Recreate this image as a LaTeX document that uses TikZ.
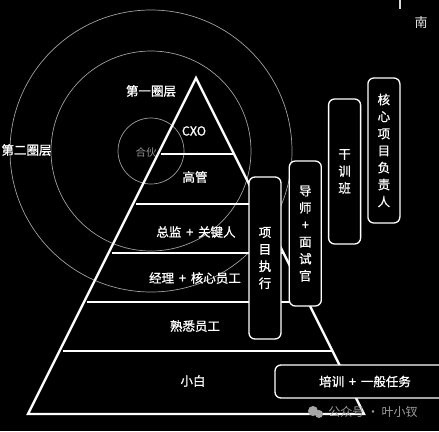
\documentclass[tikz,border=0pt]{standalone}
\usepackage{fontspec}
\setmainfont{Noto Sans CJK SC}
\newfontfamily\heavycjk[FakeBold=0.9]{Noto Sans CJK SC}
\usetikzlibrary{positioning}

\begin{document}
\begin{tikzpicture}[
			x=1pt, y=-1pt,
			tri/.style={draw=white, line width=2.4pt, line join=miter},
			layer/.style={draw=white, line width=2.4pt},
			ring/.style={draw=gray!75, line width=0.7pt},
			lbl/.style={text=white, font=\heavycjk\fontsize{12.5}{14}\selectfont, inner sep=1pt},
			vbox/.style={rectangle, rounded corners=6pt, draw=white, fill=black, line width=1.3pt, minimum width=32pt, text=white, align=center, font=\heavycjk\fontsize{12.5}{17}\selectfont, inner sep=0pt},
			hbox/.style={rectangle, rounded corners=6pt, draw=white, fill=black, line width=1.3pt, minimum width=180pt, minimum height=33pt, text=white, font=\heavycjk\fontsize{12.5}{14}\selectfont}
			]
			\fill[black] (0,0) rectangle (439,431);
			\useasboundingbox (0,0) rectangle (439,431);
			% rings
			\coordinate (ctr) at (151,151);
			\draw[ring] (ctr) circle (33);
			\draw[ring] (ctr) circle (100);
			\draw[ring] (ctr) circle (141);
			\node[lbl] (ring1) at (151,91) {第一圈层};
			\node[lbl] (ring2) at (26.5,150) {第二圈层};
			\node[lbl, text=gray!85, font=\fontsize{10.5}{12}\selectfont] (partner) at (146,152) {合伙};
			% pyramid
			\coordinate (apex) at (196,78);
			\coordinate (bl) at (28,414);
			\coordinate (br) at (364,414);
			\draw[tri] (bl) -- (apex) -- (br) -- cycle;
			\foreach \ly in {154,204,253,302,351}{
				\pgfmathsetmacro\lx{196-0.5*(\ly-78)+3}
				\pgfmathsetmacro\rx{196+0.5*(\ly-78)}
				\draw[layer] (\lx,\ly) -- (\rx,\ly);
			}
			\node[lbl] (cxo) at (194,131) {CXO};
			\node[lbl] (senior) at (195,177) {高管};
			\node[lbl] (director) at (196,232) {总监\ \,+\ \,关键人};
			\node[lbl] (manager) at (195,278) {经理\ \,+\ \,核心员工};
			\node[lbl] (familiar) at (195,326) {熟悉员工};
			\node[lbl] (novice) at (193,381) {小白};
			% training boxes
			\node[vbox, minimum height=162pt] (exec) at (265,258) {项\\目\\执\\行};
			\node[vbox, minimum height=145pt, above right=33pt and 7pt of exec.south east] (mentor) {导\\师\\+\\面\\试\\官};
			\node[vbox, minimum height=145pt, above right=62pt and 6pt of mentor.south east] (camp) {干\\训\\班};
			\node[vbox, minimum height=145pt, above right=21pt and 6pt of camp.south east] (lead) {核\\心\\项\\目\\负\\责\\人};
			\node[hbox] (basic) at (365,381.5) {培训\ \,+\ \,一般任务};
			% top right mark
			\coordinate (tick) at (400,0);
			\draw[white!85!black, line width=1.5pt] (tick) -- ++(0,9);
			\node[lbl, text=white!90!black, font=\fontsize{13}{14}\selectfont] (south) at (421,23) {南};
			% watermark
			\fill[gray!70] (313,411) circle (5);
			\fill[gray!70] (319,414) circle (4);
			\node[lbl, text=gray!75, font=\fontsize{12}{14}\selectfont] (mark) at (373,412) {公众号 · 叶小钗};
		\end{tikzpicture}
\end{document}
